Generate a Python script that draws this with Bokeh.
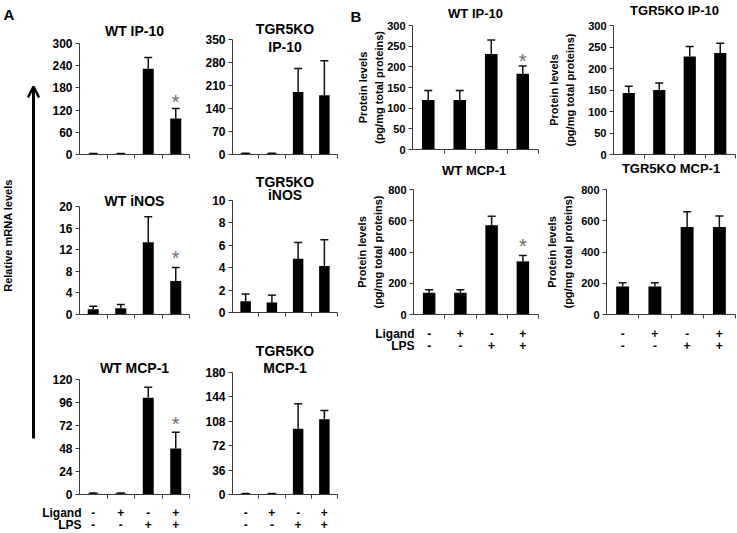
import math
from bokeh.plotting import figure
from bokeh.models import (Range1d, FixedTicker, ColumnDataSource, Whisker, TeeHead,
                          Label, Arrow, OpenHead)
from bokeh.layouts import row, column
from bokeh.embed import file_html
from bokeh.resources import INLINE

FONT = "Liberation Sans"

# ---------------- data ----------------
ligand = ["-", "+", "-", "+"]
lps = ["-", "-", "+", "+"]

# Panel A: relative mRNA levels (mean, error)
a_wt_ip10 = [2, 2, 232, 97]
a_wt_ip10_err = [1, 1, 30, 27]
a_ko_ip10 = [3, 3, 190, 180]
a_ko_ip10_err = [1, 1, 72, 105]
a_wt_inos = [0.95, 1.15, 13.4, 6.2]
a_wt_inos_err = [0.6, 0.7, 4.7, 2.5]
a_ko_inos = [1.0, 0.9, 4.8, 4.15]
a_ko_inos_err = [0.65, 0.65, 1.45, 2.35]
a_wt_mcp1 = [1, 1, 101, 48]
a_wt_mcp1_err = [0.5, 0.5, 11, 17]
a_ko_mcp1 = [1, 1, 97, 111]
a_ko_mcp1_err = [0.5, 0.5, 37, 13]

# Panel B: protein levels (pg/mg total proteins)
b_wt_ip10 = [120, 120, 231, 183]
b_wt_ip10_err = [23, 23, 34, 19]
b_ko_ip10 = [143, 150, 228, 236]
b_ko_ip10_err = [16, 16, 23, 23]
b_wt_mcp1 = [139, 139, 571, 340]
b_wt_mcp1_err = [19, 19, 58, 38]
b_ko_mcp1 = [180, 180, 560, 560]
b_ko_mcp1_err = [23, 23, 97, 71]

# significance marks (asterisk) per bar
wt_sig = [False, False, False, True]

# y-axis ticks
a_wt_ip10_ticks = [0, 60, 120, 180, 240, 300]
a_ko_ip10_ticks = [0, 70, 140, 210, 280, 350]
a_wt_inos_ticks = [0, 4, 8, 12, 16, 20]
a_ko_inos_ticks = [0, 2, 4, 6, 8, 10]
a_wt_mcp1_ticks = [0, 24, 48, 72, 96, 120]
a_ko_mcp1_ticks = [0, 36, 72, 108, 144, 180]
b_ip10_ticks = [0, 50, 100, 150, 200, 250, 300]
b_mcp1_ticks = [0, 200, 400, 600, 800]

AX = "#3a3a3a"


def lab(p, text, x, y, xo=0, yo=0, size="12px", align="center", base="middle",
        color="black", angle=0.0, style="bold"):
    p.add_layout(Label(x=x, y=y, x_offset=xo, y_offset=yo, text=text,
                       text_font=FONT, text_font_size=size, text_font_style=style,
                       text_align=align, text_baseline=base, text_color=color,
                       angle=angle))


def panel(values, errs, ticks, canvas, frame, tick_size, titles, title_size,
          sig=None, star_gap=12, conds=None, ylabel=None):
    # canvas: (left, top, width, height) of the figure on the page (px)
    # frame:  (x of category 0 edge, x of last edge, y of top tick, y of zero) (px)
    cx, cy, cw, ch = canvas
    fx0, fx1, fy0, fy1 = frame
    n = len(values)
    ymax = ticks[-1]
    ux = (fx1 - fx0) / n
    uy = (fy1 - fy0) / ymax
    xr = Range1d(-(fx0 - cx) / ux, n + (cx + cw - fx1) / ux)
    yr = Range1d(-(cy + ch - fy1) / uy, ymax + (fy0 - cy) / uy)
    p = figure(width=cw, height=ch, x_range=xr, y_range=yr, min_border=0,
               toolbar_location=None, output_backend="svg")
    p.outline_line_color = None
    p.grid.visible = False
    xs = [i + 0.5 for i in range(n)]
    upper = [v + e for v, e in zip(values, errs)]
    src = ColumnDataSource(dict(x=xs, value=values, upper=upper))
    p.vbar(x="x", top="value", width=0.4, source=src, fill_color="black",
           line_color=None)
    p.add_layout(Whisker(source=src, base="x", lower="value", upper="upper",
                         lower_head=None,
                         upper_head=TeeHead(size=8, line_width=1.5, line_color="#111"),
                         line_width=1.5, line_color="#111"))
    # x axis: tick marks between categories
    xa = p.xaxis[0]
    xa.fixed_location = 0
    xa.bounds = (0, n)
    xa.ticker = FixedTicker(ticks=[], minor_ticks=[i + 1 for i in range(n)])
    xa.minor_tick_in = 0
    xa.minor_tick_out = 4
    xa.minor_tick_line_color = AX
    xa.major_tick_line_color = None
    xa.axis_line_color = AX
    # y axis
    ya = p.yaxis[0]
    ya.fixed_location = 0
    ya.bounds = (0, ymax)
    ya.ticker = FixedTicker(ticks=ticks, minor_ticks=[])
    ya.major_tick_in = 0
    ya.major_tick_out = 4
    ya.minor_tick_line_color = None
    ya.axis_line_color = AX
    ya.major_tick_line_color = AX
    ya.major_label_standoff = 3
    ya.major_label_text_font = FONT
    ya.major_label_text_font_style = "bold"
    ya.major_label_text_font_size = tick_size
    ya.major_label_text_color = "black"
    # titles
    for text, off in titles:
        lab(p, text, n / 2, ymax, yo=off, size=title_size)
    # significance
    if sig:
        for xv, up, s in zip(xs, upper, sig):
            if s:
                lab(p, "*", xv, up, yo=star_gap, size="20px", color="#6e6e6e",
                    style="normal")
    # condition rows
    if conds:
        dy1, dy2, names, xo = conds
        for xv, a, b in zip(xs, ligand, lps):
            lab(p, a, xv, 0, yo=-dy1)
            lab(p, b, xv, 0, yo=-dy2)
        if names:
            lab(p, "Ligand", 0, 0, xo=xo, yo=-dy1, align="right")
            lab(p, "LPS", 0, 0, xo=xo, yo=-dy2, align="right")
    if ylabel:
        o1, o2 = ylabel
        lab(p, "Protein levels", 0, ymax / 2, xo=o1, size="11px", angle=math.pi / 2)
        lab(p, "(pg/mg total proteins)", 0, ymax / 2, xo=o2, size="11px",
            angle=math.pi / 2)
    return p


# ---------------- left strip (panel letter, arrow, y label) ----------------
strip = figure(width=40, height=532, x_range=Range1d(0, 40), y_range=Range1d(532, 0),
               x_axis_type=None, y_axis_type=None, toolbar_location=None,
               output_backend="svg", min_border=0)
strip.outline_line_color = None
strip.grid.visible = False
lab(strip, "A", 3, 5, size="15px", align="left", base="top")
strip.add_layout(Arrow(end=OpenHead(size=11, line_width=2.5, line_color="black"),
                       x_start=33, y_start=438, x_end=33, y_end=86,
                       line_width=3, line_color="black"))
lab(strip, "Relative mRNA levels", 7, 235, size="11px", angle=math.pi / 2)

TA = "14px"
TB = "13px"

a1 = panel(a_wt_ip10, a_wt_ip10_err, a_wt_ip10_ticks, (40, 0, 160, 175),
           (79, 189, 43, 154), "12px", [("WT IP-10", 13)], TA, sig=wt_sig, star_gap=7)
a2 = panel(a_wt_inos, a_wt_inos_err, a_wt_inos_ticks, (40, 175, 160, 165),
           (79, 189, 206, 314), "12px", [("WT iNOS", 6)], TA, sig=wt_sig, star_gap=10)
a3 = panel(a_wt_mcp1, a_wt_mcp1_err, a_wt_mcp1_ticks, (40, 340, 160, 192),
           (79, 189, 379, 494), "12px", [("WT MCP-1", 12)], TA, sig=wt_sig,
           star_gap=8, conds=(18, 30, True, 2))
k1 = panel(a_ko_ip10, a_ko_ip10_err, a_ko_ip10_ticks, (200, 0, 150, 175),
           (232, 337, 39, 154), "12px", [("TGR5KO", 11), ("IP-10", -7)], TA)
k2 = panel(a_ko_inos, a_ko_inos_err, a_ko_inos_ticks, (200, 175, 150, 165),
           (232, 337, 200, 312), "12px", [("TGR5KO", 19), ("iNOS", 6)], TA)
k3 = panel(a_ko_mcp1, a_ko_mcp1_err, a_ko_mcp1_ticks, (200, 340, 150, 192),
           (232, 337, 372, 494), "12px", [("TGR5KO", 22), ("MCP-1", 5)], TA,
           conds=(18, 30, False, 0))

b1 = panel(b_wt_ip10, b_wt_ip10_err, b_ip10_ticks, (350, 0, 195, 160),
           (412, 538, 25, 149), "11px", [("WT IP-10", 12)], TB, sig=wt_sig,
           star_gap=5, ylabel=(-50, -34))
lab(b1, "B", 0, b_ip10_ticks[-1], xo=-62, yo=18, size="15px", align="left", base="top")
b2 = panel(b_ko_ip10, b_ko_ip10_err, b_ip10_ticks, (545, 0, 191, 160),
           (613, 735, 25, 154), "11px", [("TGR5KO IP-10", 15)], TB, ylabel=(-60, -44))
b3 = panel(b_wt_mcp1, b_wt_mcp1_err, b_mcp1_ticks, (350, 160, 195, 200),
           (413, 538, 189, 314), "11px", [("WT  MCP-1", 19)], TB, sig=wt_sig,
           star_gap=9, ylabel=(-52, -36), conds=(19, 31, True, 1))
b4 = panel(b_ko_mcp1, b_ko_mcp1_err, b_mcp1_ticks, (545, 160, 191, 200),
           (606, 735, 189, 314), "11px", [("TGR5KO MCP-1", 21)], TB,
           ylabel=(-55, -39), conds=(19, 31, False, 0))

layout = row(strip, column(a1, a2, a3), column(k1, k2, k3),
             column(row(b1, b2), row(b3, b4)))

open("out.html", "w").write(file_html(layout, INLINE))
